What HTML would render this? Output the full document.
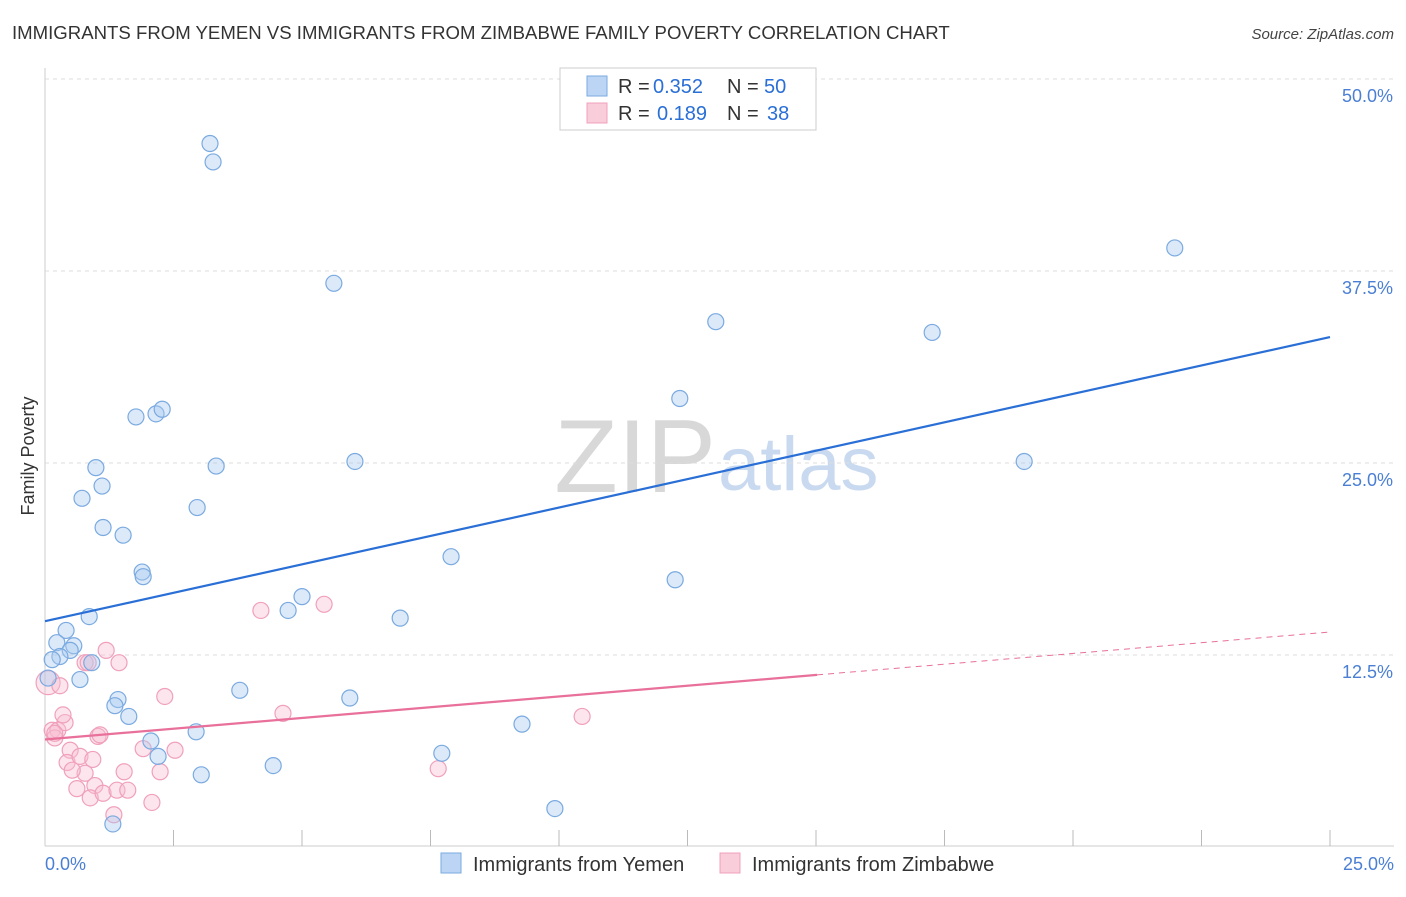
<!DOCTYPE html>
<html><head><meta charset="utf-8"><style>
body{margin:0;background:#fff;font-family:"Liberation Sans",sans-serif;}
svg text{font-family:"Liberation Sans",sans-serif;}
</style></head><body>
<svg id="chart" width="1406" height="892">
<text x="12" y="39" font-size="18.6" fill="#333">IMMIGRANTS FROM YEMEN VS IMMIGRANTS FROM ZIMBABWE FAMILY POVERTY CORRELATION CHART</text>
<text x="1394" y="39" font-size="15" fill="#444" text-anchor="end" font-style="italic">Source: ZipAtlas.com</text>
<text x="34" y="456" font-size="18" fill="#333" text-anchor="middle" transform="rotate(-90 34 456)">Family Poverty</text>
<text x="716" y="492" font-size="104" fill="#d8d8d8" text-anchor="end" font-family="Liberation Serif">ZIP</text>
<text x="718" y="490" font-size="76" fill="#c9daf0">atlas</text>
<g id="grid"></g><g id="pts"></g><g id="lines"></g>
<g>
<rect x="560" y="68" width="256" height="62" fill="#fff" stroke="#ccc"/>
<rect x="587" y="76" width="20" height="20" fill="#bcd5f5" stroke="#7aaae0"/>
<text x="618" y="93" font-size="20" fill="#333">R =</text>
<text x="653" y="93" font-size="20" fill="#2a6fd6">0.352</text>
<text x="727" y="93" font-size="20" fill="#333">N =</text>
<text x="764" y="93" font-size="20" fill="#2a6fd6">50</text>
<rect x="587" y="103" width="20" height="20" fill="#f9cdd9" stroke="#f0a0bc"/>
<text x="618" y="120" font-size="20" fill="#333">R =</text>
<text x="657" y="120" font-size="20" fill="#2a6fd6">0.189</text>
<text x="727" y="120" font-size="20" fill="#333">N =</text>
<text x="767" y="120" font-size="20" fill="#2a6fd6">38</text>
</g>
<g>
<rect x="441" y="853" width="20" height="20" fill="#bcd5f5" stroke="#7aaae0"/>
<text x="473" y="871" font-size="20" fill="#333">Immigrants from Yemen</text>
<rect x="720" y="853" width="20" height="20" fill="#f9cdd9" stroke="#f0a0bc"/>
<text x="752" y="871" font-size="20" fill="#333">Immigrants from Zimbabwe</text>
</g>
<text x="45" y="870" font-size="18" fill="#4a7fd4">0.0%</text>
<text x="1394" y="870" font-size="18" fill="#4a7fd4" text-anchor="end">25.0%</text>
</svg>
<script>
const yTicks=[12.5,25,37.5,50];
const yTickLabels=["12.5%","25.0%","37.5%","50.0%"];
const xTicks=[2.5,5,7.5,10,12.5,15,17.5,20,22.5,25];
const yemenX=[3.21,3.27,5.62,21.98,13.05,17.26,12.35,1.77,2.16,2.28,0.99,3.33,6.03,19.05,0.72,1.11,2.96,1.13,1.52,7.90,1.89,1.91,12.26,5.00,4.73,0.86,6.91,0.41,0.23,0.56,0.49,0.29,0.91,0.14,0.68,0.06,3.79,1.42,1.36,5.93,1.63,2.94,9.28,2.06,2.20,7.72,4.44,3.04,9.92,1.32];
const yemenY=[45.8,44.6,36.7,39.0,34.2,33.5,29.2,28.0,28.2,28.5,24.7,24.8,25.1,25.1,22.7,23.5,22.1,20.8,20.3,18.9,17.9,17.6,17.4,16.3,15.4,15.0,14.9,14.1,13.3,13.1,12.8,12.4,12.0,12.2,10.9,11.0,10.2,9.6,9.2,9.7,8.5,7.5,8.0,6.9,5.9,6.1,5.3,4.7,2.5,1.5];
const zimX=[0.06,0.29,0.14,0.25,0.39,0.35,0.19,0.49,0.43,0.68,0.93,0.78,0.53,0.62,0.97,0.88,1.13,1.40,1.61,1.54,1.34,2.08,2.24,1.91,2.53,1.03,1.07,1.19,1.44,0.78,0.84,2.33,4.20,5.43,4.63,10.45,7.65,0.19];
const zimY=[10.7,10.5,7.6,7.6,8.1,8.6,7.1,6.3,5.5,5.9,5.7,4.8,5.0,3.8,4.0,3.2,3.5,3.7,3.7,4.9,2.1,2.9,4.9,6.4,6.3,7.2,7.3,12.8,12.0,12.0,12.0,9.8,15.4,15.8,8.7,8.5,5.1,7.4];
const yemenTrend=[14.7,33.2];
const zimTrend=[7.0,14.0];
const zimSolidEnd=15.02;
const X=v=>45+v*51.4, Y=v=>847-v*15.36;
const NS="http://www.w3.org/2000/svg";
function mk(p,t,a){const e=document.createElementNS(NS,t);for(const k in a)e.setAttribute(k,a[k]);p.appendChild(e);return e;}
const g=document.getElementById('grid');
mk(g,'line',{x1:45,y1:68,x2:45,y2:846,stroke:'#ccc'});
mk(g,'line',{x1:45,y1:846,x2:1394,y2:846,stroke:'#ccc'});
yTicks.forEach((t,i)=>{
 const l=mk(g,'line',{x1:45,y1:Y(t),x2:1394,y2:Y(t),stroke:'#ddd','stroke-dasharray':'4,4'});
 
 
 const tx=mk(g,'text',{x:1393,y:Y(t)+23,'font-size':18,fill:'#4a7fd4','text-anchor':'end'});
 tx.textContent=yTickLabels[i];
 
 
});
xTicks.forEach(t=>{
 const l=mk(g,'line',{x1:X(t),y1:830,x2:X(t),y2:846,stroke:'#bbb'});
 
 
});
const p=document.getElementById('pts');
zimX.forEach((x,i)=>{
 const c=mk(p,'circle',{cx:X(x),cy:Y(zimY[i]),r:i==0?12:8,fill:'rgba(248,190,210,0.4)',stroke:'#f0a0bc','stroke-width':1.2});
 
 
});
yemenX.forEach((x,i)=>{
 const c=mk(p,'circle',{cx:X(x),cy:Y(yemenY[i]),r:8,fill:'rgba(168,200,240,0.4)',stroke:'#7aaae0','stroke-width':1.2});
 
 
});
const L=document.getElementById('lines');
const b=mk(L,'line',{x1:X(0),y1:Y(yemenTrend[0]),x2:X(25),y2:Y(yemenTrend[1]),stroke:'#2a6fd6','stroke-width':2.2});


const zAt=v=>zimTrend[0]+(zimTrend[1]-zimTrend[0])*v/25;
const z1=mk(L,'line',{x1:X(0),y1:Y(zimTrend[0]),x2:X(zimSolidEnd),y2:Y(zAt(zimSolidEnd)),stroke:'#e8709a','stroke-width':2.2});


const z2=mk(L,'line',{x1:X(zimSolidEnd),y1:Y(zAt(zimSolidEnd)),x2:X(25),y2:Y(zimTrend[1]),stroke:'#e8709a','stroke-width':1,'stroke-dasharray':'6,5'});


</script>
</body></html>
